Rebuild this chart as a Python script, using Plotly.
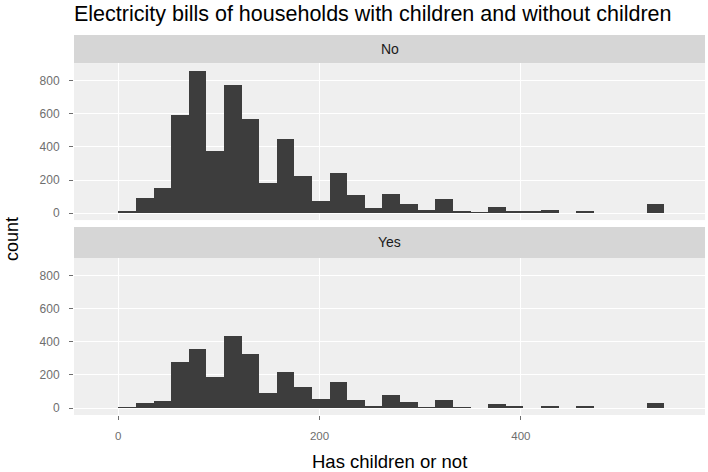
import plotly.graph_objects as go

# ---- data ----
BIN_WIDTH = 17.5
N_BINS = 31
bin_centers = [BIN_WIDTH * (i + 0.5) for i in range(N_BINS)]

counts_no = [10, 90, 150, 590, 860, 375, 775, 570, 180, 445, 225, 70, 240, 110, 30,
             115, 55, 20, 85, 10, 5, 35, 15, 10, 20, 0, 8, 0, 0, 0, 55]
counts_yes = [5, 30, 40, 280, 355, 185, 435, 325, 90, 220, 125, 55, 160, 50, 15,
              80, 35, 5, 50, 5, 0, 25, 10, 0, 15, 0, 8, 0, 0, 0, 30]

facet_labels = ["No", "Yes"]
x_ticks = [0, 200, 400]
y_ticks = [0, 200, 400, 600, 800]

title_text = "Electricity bills of households with children and without children"
x_title = "Has children or not"
y_title = "count"

# ---- styling ----
BAR_COLOR = "#3d3d3d"
PANEL_BG = "#efefef"
STRIP_BG = "#d6d6d6"
TICK_COLOR = "#6e6e6e"
FONT = "Liberation Sans, Arial, sans-serif"

# domains (paper coords, from bottom)
dom_panel_top = [0.513, 0.926]
dom_strip_top = [0.926, 1.0]
dom_panel_bot = [0.0, 0.413]
dom_strip_bot = [0.413, 0.495]

X_RANGE = [-44, 583]
Y_RANGE = [-42, 907]

fig = go.Figure()
fig.add_trace(go.Bar(x=bin_centers, y=counts_no, width=BIN_WIDTH,
                     marker=dict(color=BAR_COLOR, line=dict(width=0)),
                     xaxis="x", yaxis="y", showlegend=False))
fig.add_trace(go.Bar(x=bin_centers, y=counts_yes, width=BIN_WIDTH,
                     marker=dict(color=BAR_COLOR, line=dict(width=0)),
                     xaxis="x2", yaxis="y2", showlegend=False))

axis_common = dict(
    showgrid=True, gridcolor="white", gridwidth=1,
    zeroline=False, showline=False, automargin=False,
    tickcolor=TICK_COLOR, ticklen=4,
)
x_tickfont = dict(family=FONT, size=11.5, color=TICK_COLOR)
y_tickfont = dict(family=FONT, size=12, color=TICK_COLOR)

fig.update_layout(
    width=708, height=472,
    margin=dict(l=74, r=3, t=35, b=57, autoexpand=False),
    paper_bgcolor="white",
    plot_bgcolor=PANEL_BG,
    bargap=0,
    font=dict(family=FONT),
    title=dict(text=title_text, x=0.0, xref="paper", xanchor="left",
               y=1 - 13 / 472, yref="container", yanchor="middle",
               font=dict(family=FONT, size=21.5, color="black")),
    xaxis=dict(domain=[0, 1], range=X_RANGE, anchor="y", showticklabels=False,
               tickvals=x_ticks, ticks="", tickfont=x_tickfont, **axis_common),
    yaxis=dict(domain=dom_panel_top, range=Y_RANGE, anchor="x",
               tickvals=y_ticks, ticks="outside", ticklabelstandoff=7,
               tickfont=y_tickfont, **axis_common),
    xaxis2=dict(domain=[0, 1], range=X_RANGE, anchor="y2",
                tickvals=x_ticks, ticks="outside", ticklabelstandoff=6,
                tickfont=x_tickfont, **axis_common),
    yaxis2=dict(domain=dom_panel_bot, range=Y_RANGE, anchor="x2",
                tickvals=y_ticks, ticks="outside", ticklabelstandoff=7,
                tickfont=y_tickfont, **axis_common),
)

# strips
for dom, label in [(dom_strip_top, facet_labels[0]), (dom_strip_bot, facet_labels[1])]:
    fig.add_shape(type="rect", xref="paper", yref="paper",
                  x0=0, x1=1, y0=dom[0], y1=dom[1],
                  fillcolor=STRIP_BG, line=dict(width=0), layer="below")
    fig.add_annotation(text=label, xref="paper", yref="paper",
                       x=0.5, y=(dom[0] + dom[1]) / 2, showarrow=False,
                       xanchor="center", yanchor="middle",
                       font=dict(family=FONT, size=14, color="#1a1a1a"))

# axis titles
fig.add_annotation(text=x_title, xref="paper", yref="paper", x=0.5, y=-46 / 380,
                   showarrow=False, xanchor="center", yanchor="middle",
                   font=dict(family=FONT, size=18.5, color="black"))
fig.add_annotation(text=y_title, xref="paper", yref="paper", x=-62 / 631, y=0.463,
                   showarrow=False, textangle=-90, xanchor="center", yanchor="middle",
                   font=dict(family=FONT, size=18, color="black"))

fig.write_html("out.html", config={"displayModeBar": False},
               post_script="document.body.style.margin='0';")
